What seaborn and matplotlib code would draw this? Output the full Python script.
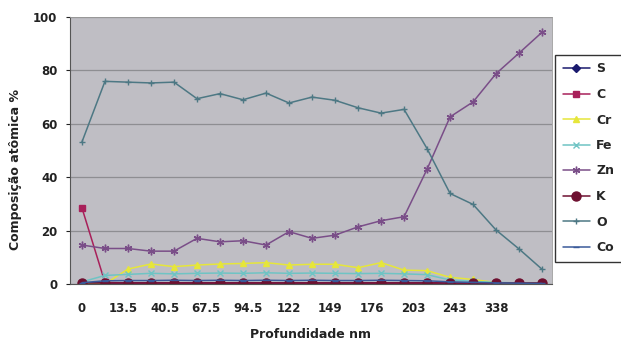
import numpy as np
import pandas as pd
import matplotlib
matplotlib.use("Agg")
import matplotlib.pyplot as plt
import seaborn as sns

# Depth profile: atomic composition (%) at each sputtering step
depth_labels = ["0", "13.5", "40.5", "67.5", "94.5", "122", "149", "176", "203", "243", "338"]
n_points = 21

S  = [0.3] * 21
C  = [28.5, 0.6, 0.4, 0.4, 0.4, 0.4, 0.4, 0.4, 0.4, 0.4, 0.4,
      0.4, 0.4, 0.4, 0.4, 0.4, 0.4, 0.4, 0.4, 0.4, 0.4]
Cr = [0.0, 0.0, 5.6, 7.5, 6.5, 7.1, 7.5, 7.7, 8.0, 7.1, 7.4,
      7.4, 6.1, 8.0, 5.2, 5.0, 2.5, 1.7, 0.5, 0.3, 0.2]
Fe = [0.8, 3.2, 3.6, 4.0, 3.8, 4.0, 4.1, 4.0, 4.2, 4.0, 4.1,
      4.0, 3.9, 4.0, 3.8, 3.5, 1.5, 1.0, 0.6, 0.4, 0.3]
Zn = [14.6, 13.3, 13.3, 12.3, 12.3, 17.1, 15.8, 16.2, 14.6, 19.6, 17.1,
      18.3, 21.4, 23.7, 25.2, 43.0, 62.6, 68.2, 78.8, 86.5, 94.3]
K  = [0.3] * 21
O  = [53.2, 75.9, 75.6, 75.3, 75.6, 69.4, 71.3, 69.0, 71.5, 67.8, 70.0,
      68.8, 66.0, 64.0, 65.4, 50.7, 33.9, 29.8, 20.2, 13.1, 5.5]
Co = [0.5, 1.2, 1.3, 1.3, 1.4, 1.3, 1.4, 1.3, 1.4, 1.3, 1.4,
      1.3, 1.3, 1.4, 1.3, 1.2, 0.8, 0.6, 0.4, 0.3, 0.2]

series = {"S": S, "C": C, "Cr": Cr, "Fe": Fe, "Zn": Zn, "K": K, "O": O, "Co": Co}

styles = {
    "S":  dict(color="#1a1a6e", marker="D", markersize=4.5),
    "C":  dict(color="#a8205a", marker="s", markersize=4.5),
    "Cr": dict(color="#e6e63a", marker="^", markersize=5),
    "Fe": dict(color="#6fc4c4", marker="x", markersize=4.5),
    "Zn": dict(color="#7a4e88", marker=(6, 2, 0), markersize=5.5),
    "K":  dict(color="#6e1030", marker="o", markersize=6.5),
    "O":  dict(color="#4d7884", marker="+", markersize=5),
    "Co": dict(color="#3a5a9a", marker="_", markersize=5),
}

sns.set_theme(style="white")
plt.rcParams["font.family"] = ["DejaVu Sans"]
plt.rcParams["font.weight"] = "bold"

fig = plt.figure(figsize=(6.21, 3.40), dpi=100)
ax = fig.add_axes([0.1127, 0.1647, 0.7762, 0.7853])
ax.set_facecolor("#bfbec4")

idx = np.arange(n_points)
for name, vals in series.items():
    df = pd.DataFrame({"idx": idx, "val": vals})
    st = styles[name]
    sns.lineplot(data=df, x="idx", y="val", ax=ax, color=st["color"],
                 marker=st["marker"], markersize=st["markersize"],
                 markeredgecolor=st["color"], markerfacecolor=st["color"],
                 markeredgewidth=1.0, linewidth=1.1, label=name)

ax.set_xlim(-0.52, 20.43)
ax.set_ylim(0, 100)
ax.set_yticks([0, 20, 40, 60, 80, 100])
ax.yaxis.grid(True, color="#8e8e92", linewidth=0.9)
ax.xaxis.grid(False)
ax.set_axisbelow(True)

ax.set_xticks(np.linspace(0, 18, len(depth_labels)))
ax.set_xticklabels(depth_labels)
ax.tick_params(axis="x", length=0, pad=13, labelsize=8.5, colors="#222222")
ax.tick_params(axis="y", length=3, width=0.8, pad=6, labelsize=8.5,
               colors="#222222", left=True, direction="out")

for side in ["top", "right"]:
    ax.spines[side].set_color("#9a9a9a")
    ax.spines[side].set_linewidth(0.6)
for side in ["left", "bottom"]:
    ax.spines[side].set_color("#555555")
    ax.spines[side].set_linewidth(0.8)

ax.set_xlabel("Profundidade nm", fontsize=9, fontweight="bold", color="#222222", labelpad=9)
ax.set_ylabel("Composição atômica %", fontsize=9, fontweight="bold", color="#222222")
ax.yaxis.set_label_coords(-0.10, 0.43)

ax.legend(loc="upper left", bbox_to_anchor=(555 / 621, 1 - 55 / 340),
          bbox_transform=fig.transFigure, borderaxespad=0, frameon=True, fancybox=False,
          edgecolor="#333333", facecolor="white", framealpha=1,
          prop=dict(size=9, weight="bold"), labelspacing=1.0,
          handlelength=2.2, handletextpad=0.5, borderpad=0.6)

fig.savefig("out.png", dpi=100, facecolor="white")
